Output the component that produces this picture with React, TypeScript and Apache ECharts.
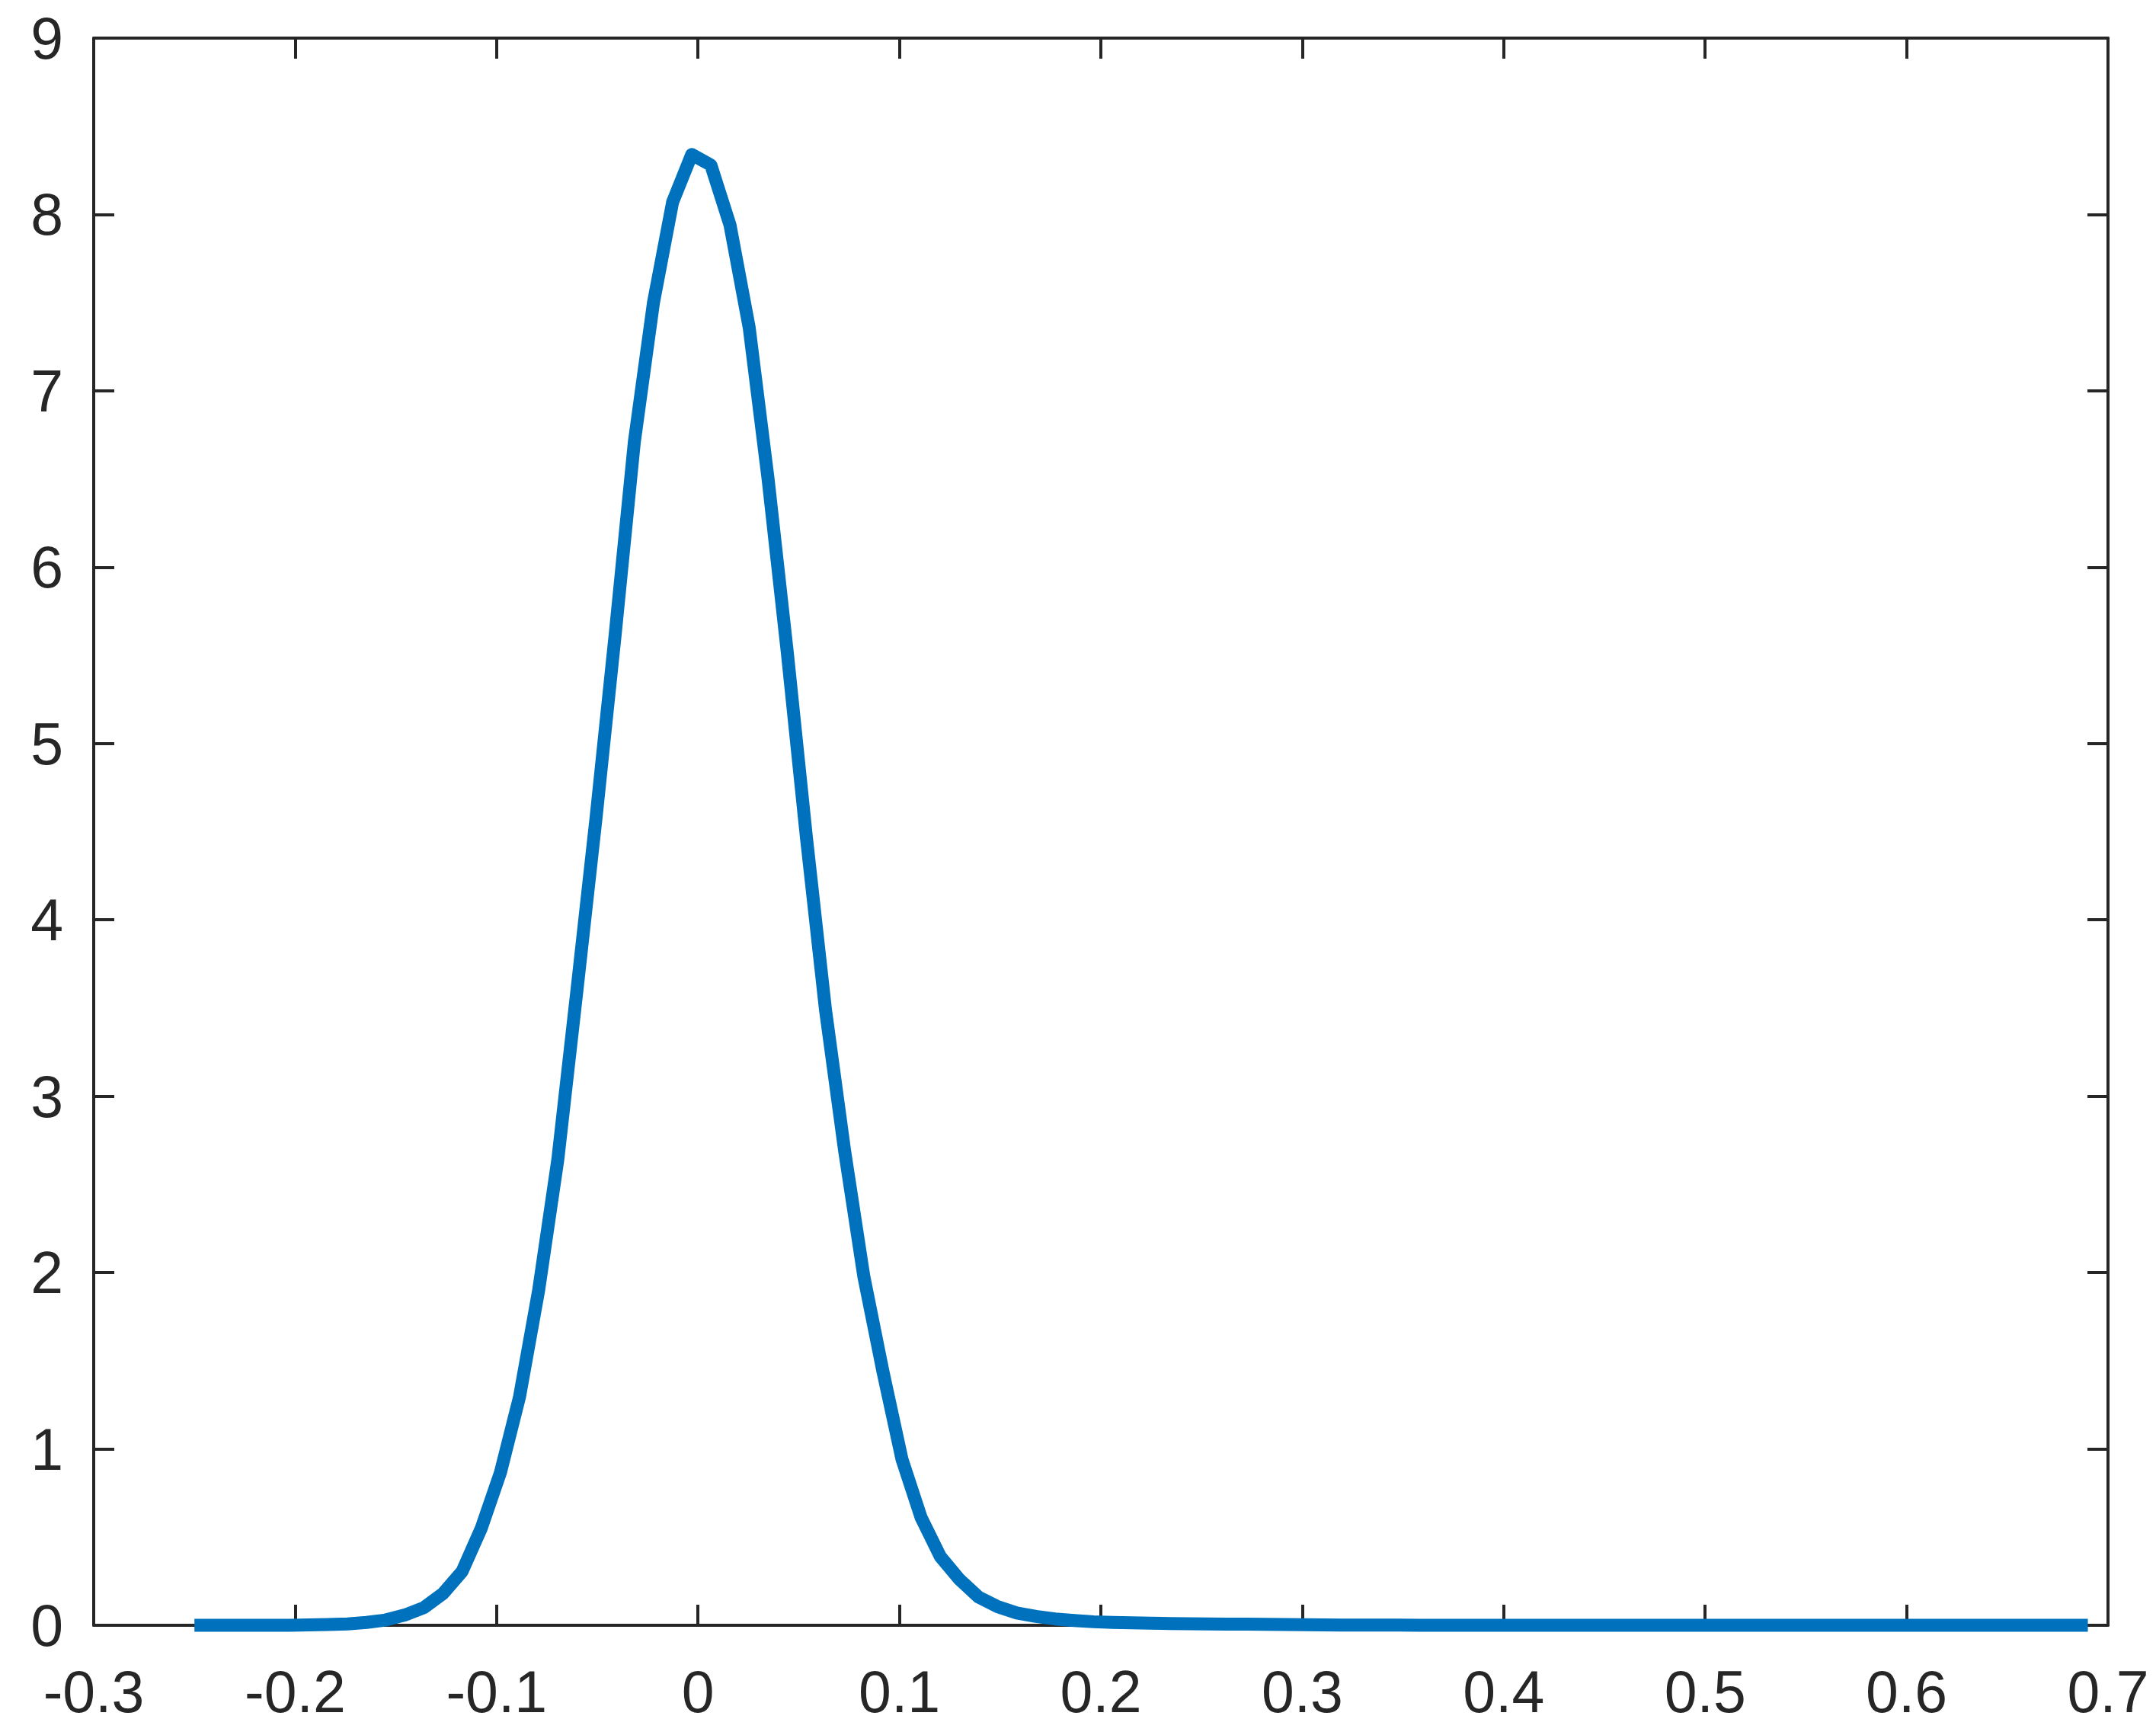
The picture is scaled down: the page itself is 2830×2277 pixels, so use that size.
import React, { useEffect, useRef } from "react";
import * as echarts from "echarts";

// x grid of the density estimate (100 points)
const xValues: number[] = [
  -0.25, -0.2405, -0.231, -0.2215, -0.212, -0.2025, -0.193, -0.1835, -0.174, -0.1645,
  -0.1551, -0.1456, -0.1361, -0.1266, -0.1171, -0.1076, -0.0981, -0.0886, -0.0791, -0.0696,
  -0.0601, -0.0506, -0.0411, -0.0316, -0.0221, -0.0126, -0.0031, 0.0064, 0.0159, 0.0254,
  0.0348, 0.0443, 0.0538, 0.0633, 0.0728, 0.0823, 0.0918, 0.1013, 0.1108, 0.1203,
  0.1298, 0.1393, 0.1488, 0.1583, 0.1678, 0.1773, 0.1868, 0.1963, 0.2058, 0.2153,
  0.2247, 0.2342, 0.2437, 0.2532, 0.2627, 0.2722, 0.2817, 0.2912, 0.3007, 0.3102,
  0.3197, 0.3292, 0.3387, 0.3482, 0.3577, 0.3672, 0.3767, 0.3862, 0.3957, 0.4052,
  0.4146, 0.4241, 0.4336, 0.4431, 0.4526, 0.4621, 0.4716, 0.4811, 0.4906, 0.5001,
  0.5096, 0.5191, 0.5286, 0.5381, 0.5476, 0.5571, 0.5666, 0.5761, 0.5856, 0.5951,
  0.6045, 0.614, 0.6235, 0.633, 0.6425, 0.652, 0.6615, 0.671, 0.6805, 0.69,
];

// density values
const densityValues: number[] = [
  0, 0, 0, 0, 0, 0, 0.002, 0.004, 0.008, 0.016,
  0.03, 0.058, 0.1, 0.18, 0.305, 0.55, 0.865, 1.295, 1.9, 2.64,
  3.6, 4.58, 5.62, 6.71, 7.5, 8.07, 8.34, 8.28, 7.94, 7.36,
  6.5, 5.52, 4.47, 3.49, 2.69, 1.98, 1.44, 0.94, 0.61, 0.39,
  0.26, 0.16, 0.105, 0.07, 0.05, 0.036, 0.027, 0.02, 0.016, 0.014,
  0.012, 0.01, 0.009, 0.008, 0.007, 0.006, 0.005, 0.004, 0.003, 0.002,
  0.001, 0.001, 0.001, 0.001, 0, 0, 0, 0, 0, 0,
  0, 0, 0, 0, 0, 0, 0, 0, 0, 0,
  0, 0, 0, 0, 0, 0, 0, 0, 0, 0,
  0, 0, 0, 0, 0, 0, 0, 0, 0, 0,
];

const xMin = -0.3;
const xMax = 0.7;
const xStep = 0.1;
const yMin = 0;
const yMax = 9;
const yStep = 1;

const AXIS_COLOR = "#262626";
const LINE_COLOR = "#0072BD";
const FONT = "'Liberation Sans', Arial, Helvetica, sans-serif";
const FONT_SIZE = 77;

const fmt = (v: number) => String(parseFloat(v.toFixed(1)));

export default function App() {
  const ref = useRef<HTMLDivElement>(null);

  useEffect(() => {
    if (!ref.current) return;
    const chart = echarts.init(ref.current, undefined, { renderer: "svg" });
    const axisLine = { show: true, onZero: false, lineStyle: { color: AXIS_COLOR, width: 4 } };
    const axisTick = { show: true, inside: true, length: 27, lineStyle: { color: AXIS_COLOR, width: 4 } };
    const label = {
      color: AXIS_COLOR,
      fontFamily: FONT,
      fontSize: FONT_SIZE,
    };
    chart.setOption({
      animation: false,
      backgroundColor: "#ffffff",
      grid: { left: 123, top: 50, right: 63, bottom: 144, containLabel: false },
      xAxis: [
        {
          type: "value",
          position: "bottom",
          min: xMin,
          max: xMax,
          interval: xStep,
          axisLine,
          axisTick,
          splitLine: { show: false },
          axisLabel: { ...label, margin: 48, formatter: fmt, showMinLabel: true, showMaxLabel: true },
        },
        {
          type: "value",
          position: "top",
          min: xMin,
          max: xMax,
          interval: xStep,
          axisLine,
          axisTick,
          splitLine: { show: false },
          axisLabel: { show: false },
        },
      ],
      yAxis: [
        {
          type: "value",
          position: "left",
          min: yMin,
          max: yMax,
          interval: yStep,
          axisLine,
          axisTick,
          splitLine: { show: false },
          axisLabel: { ...label, margin: 40, formatter: fmt },
        },
        {
          type: "value",
          position: "right",
          min: yMin,
          max: yMax,
          interval: yStep,
          axisLine,
          axisTick,
          splitLine: { show: false },
          axisLabel: { show: false },
        },
      ],
      series: [
        {
          type: "line",
          xAxisIndex: 0,
          yAxisIndex: 0,
          data: xValues.map((x, i) => [x, densityValues[i]]),
          showSymbol: false,
          symbol: "none",
          clip: false,
          lineStyle: { color: LINE_COLOR, width: 17, join: "round" },
          z: 5,
        },
      ],
    });
    return () => chart.dispose();
  }, []);

  return (
    <div
      ref={ref}
      style={{ position: "fixed", left: 0, top: 0, width: 2830, height: 2277, background: "#fff" }}
    />
  );
}
